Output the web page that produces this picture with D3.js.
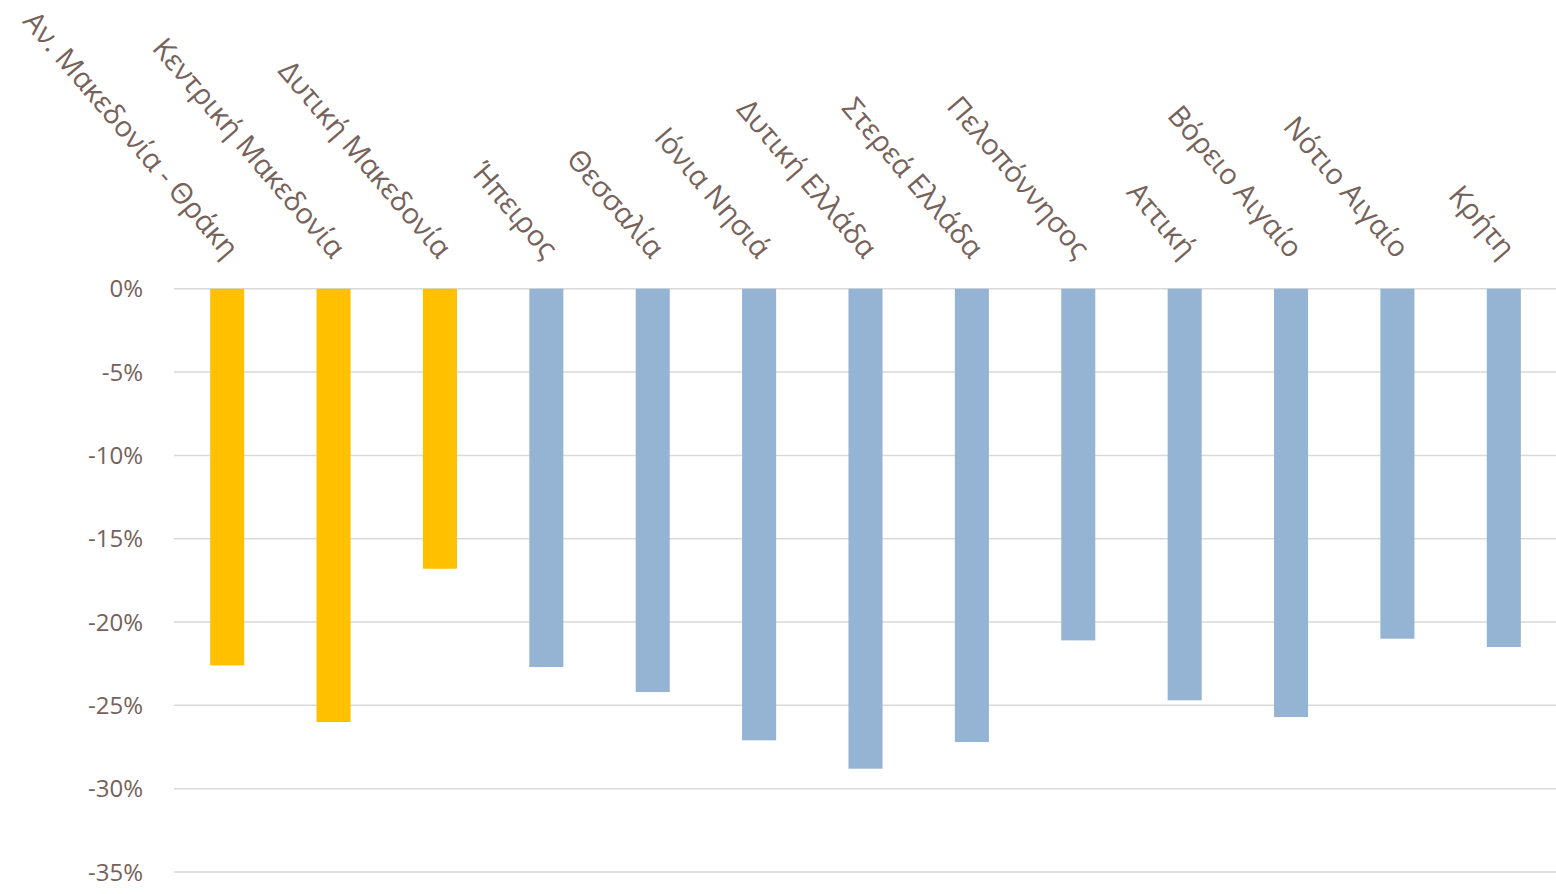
<!DOCTYPE html>
<html>
<head>
<meta charset="utf-8">
<script src="https://cdn.jsdelivr.net/npm/d3@7"></script>
<style>
  html, body { margin: 0; padding: 0; background: #fff; }
  svg { display: block; }
</style>
</head>
<body>
<svg id="chart" width="1556" height="894"></svg>
<script>
const categories = [
  "Αν. Μακεδονία - Θράκη",
  "Κεντρική Μακεδονία",
  "Δυτική Μακεδονία",
  "Ήπειρος",
  "Θεσσαλία",
  "Ιόνια Νησιά",
  "Δυτική Ελλάδα",
  "Στερεά Ελλάδα",
  "Πελοπόννησος",
  "Αττική",
  "Βόρειο Αιγαίο",
  "Νότιο Αιγαίο",
  "Κρήτη"
];
const values = [-22.6, -26.0, -16.8, -22.7, -24.2, -27.1, -28.8, -27.2, -21.1, -24.7, -25.7, -21.0, -21.5];
const highlighted = [true, true, true, false, false, false, false, false, false, false, false, false, false];
const yTicks = [0, -5, -10, -15, -20, -25, -30, -35];

const svg = d3.select("#chart");
const textColor = "#76625a";
const font = "'Open Sans', sans-serif";

const x = d3.scaleBand()
  .domain(categories)
  .range([174, 1557])
  .paddingInner(0.68)
  .paddingOuter(0.34);

const y = d3.scaleLinear()
  .domain([-35, 0])
  .range([872, 288.8]);

// gridlines
svg.append("g")
  .selectAll("line")
  .data(yTicks)
  .join("line")
  .attr("x1", 174)
  .attr("x2", 1556)
  .attr("y1", d => y(d))
  .attr("y2", d => y(d))
  .attr("stroke", "#d9d9d9")
  .attr("stroke-width", 1.5);

// y axis labels
svg.append("g")
  .selectAll("text")
  .data(yTicks)
  .join("text")
  .attr("x", 143)
  .attr("y", d => y(d))
  .attr("dy", "0.36em")
  .attr("text-anchor", "end")
  .attr("fill", textColor)
  .attr("font-family", font)
  .attr("font-size", 24)
  .text(d => d + "%");

// bars
svg.append("g")
  .selectAll("rect")
  .data(categories)
  .join("rect")
  .attr("x", d => x(d))
  .attr("width", x.bandwidth())
  .attr("y", (d, i) => y(0))
  .attr("height", (d, i) => y(values[i]) - y(0))
  .attr("fill", (d, i) => highlighted[i] ? "#FFC000" : "#95B3D3");

// category labels (rotated)
svg.append("g")
  .selectAll("text")
  .data(categories)
  .join("text")
  .attr("transform", d => `translate(${x(d) + x.bandwidth() / 2 - 2},260) rotate(49.5)`)
  .attr("text-anchor", "end")
  .attr("fill", textColor)
  .attr("font-family", font)
  .attr("font-size", 28.8)
  .text(d => d);
</script>
</body>
</html>
